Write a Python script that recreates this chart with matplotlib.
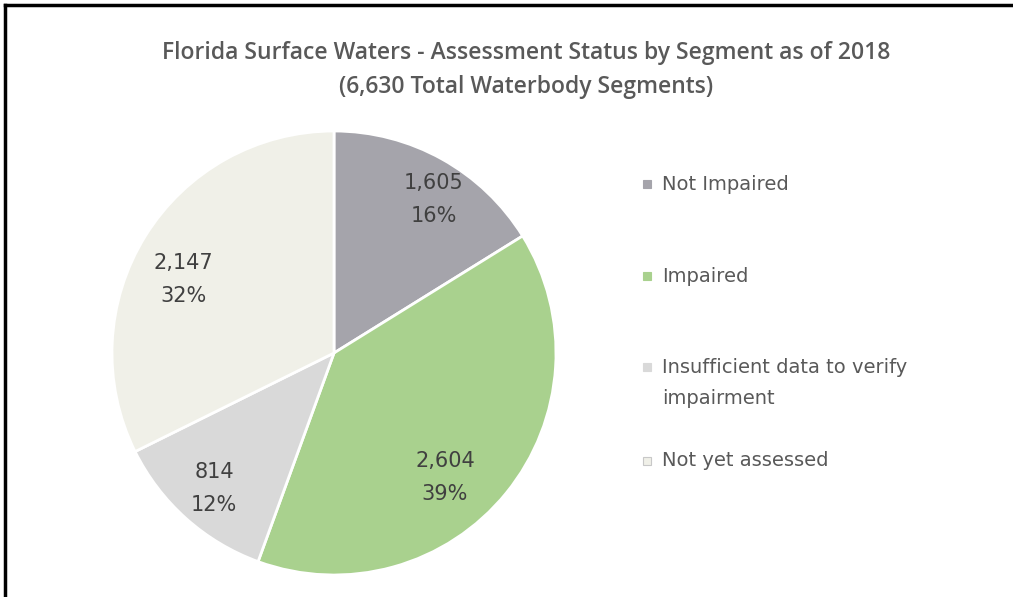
import matplotlib
matplotlib.use('Agg')
import matplotlib.pyplot as plt
from matplotlib.patches import Rectangle
from matplotlib.lines import Line2D

# data
categories = ['Not Impaired', 'Impaired', 'Insufficient data to verify\nimpairment', 'Not yet assessed']
segments = [1605, 2604, 814, 2147]
pct = [16, 39, 12, 32]   # the slices in the original are drawn from these
colors = ['#A5A4AB', '#A9D18E', '#D9D9D9', '#F0F0E8']

title = 'Florida Surface Waters - Assessment Status by Segment as of 2018\n(6,630 Total Waterbody Segments)'

plt.rcParams['font.family'] = ['DejaVu Sans']

W, H = 1013, 597
fig = plt.figure(figsize=(W / 100, H / 100), dpi=100)

# pie placed by pixel centre / radius
cx, cy, r = 334, 353, 222
ax = fig.add_axes([(cx - r) / W, (H - cy - r) / H, 2 * r / W, 2 * r / H])
wedges, _ = ax.pie(pct, colors=colors, startangle=90, counterclock=False,
                   radius=1, wedgeprops=dict(edgecolor='white', linewidth=2))
ax.set_xlim(-1.0, 1.0)
ax.set_ylim(-1.0, 1.0)
ax.set_aspect('equal')
ax.axis('off')

# data labels (in radius units, as placed in the original)
label_xy = [(0.45, 0.69), (0.50, -0.56), (-0.54, -0.61), (-0.68, 0.33)]
for (x, y), n, p in zip(label_xy, segments, pct):
    ax.text(x, y, f'{n:,}\n{p}%', ha='center', va='center', fontsize=15,
            color='#404040', linespacing=1.8)

fig.text(526 / W, 1 - 70 / H, title, ha='center', va='center', fontsize=16.5,
         fontweight='semibold', color='#595959', linespacing=1.58,
         family=['Open Sans', 'DejaVu Sans'])

# legend
leg_y = [184, 276, 367, 461]
for lab, c, y in zip(categories, colors, leg_y):
    fig.patches.append(Rectangle((643 / W, (H - y - 4) / H), 8 / W, 8 / H,
                                 transform=fig.transFigure, facecolor=c,
                                 edgecolor='#C8C8C8' if c == '#F0F0E8' else c,
                                 linewidth=0.8))
    if '\n' in lab:
        fig.text(662 / W, (H - y + 9) / H, lab, ha='left', va='top',
                 fontsize=14, color='#595959', linespacing=1.8)
    else:
        fig.text(662 / W, (H - y) / H, lab, ha='left', va='center',
                 fontsize=14, color='#595959')

# frame (top and left only visible)
fig.add_artist(Line2D([5 / W, 1], [1 - 5 / H, 1 - 5 / H], color='black', lw=2.5,
                      transform=fig.transFigure))
fig.add_artist(Line2D([5 / W, 5 / W], [0, 1 - 5 / H], color='black', lw=2.5,
                      transform=fig.transFigure))

fig.savefig('out.png', dpi=100)
